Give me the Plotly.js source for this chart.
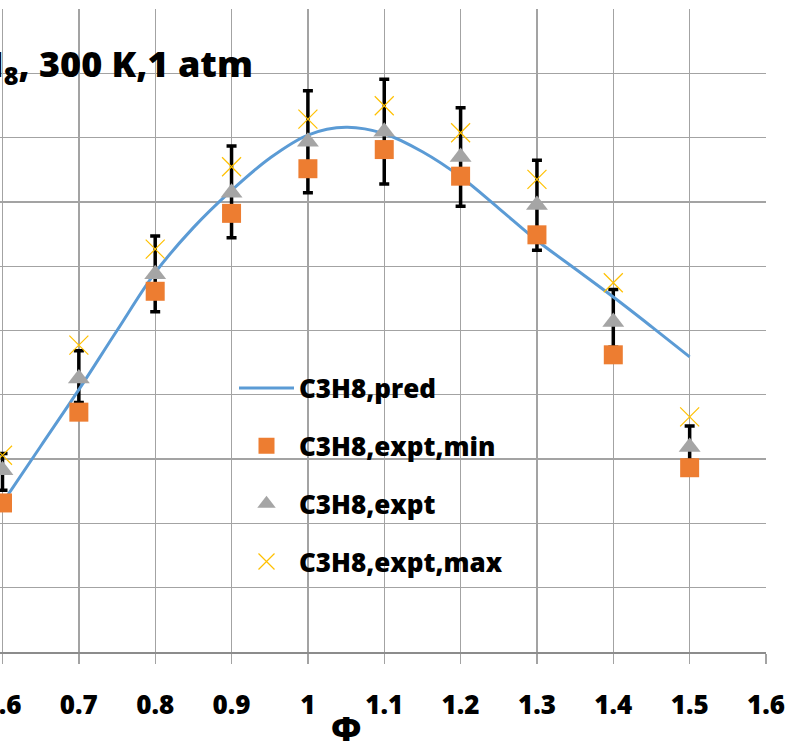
<!DOCTYPE html>
<html>
<head>
<meta charset="utf-8">
<script src="https://cdn.plot.ly/plotly-3.0.1.min.js"></script>
<style>html,body{margin:0;padding:0;background:#fff;}#chart{width:792px;height:744px;}</style>
</head>
<body>
<div id="chart"></div>
<script>
// Equivalence ratio of the experimental points
const phi = [0.6, 0.7, 0.8, 0.9, 1.0, 1.1, 1.2, 1.3, 1.4, 1.5];
// Experimental series (flame speed, cm/s)
const exptMin = [11.59, 18.65, 28.05, 34.11, 37.58, 39.07, 37.0, 32.44, 23.11, 14.33];
const expt    = [14.14, 21.27, 29.37, 35.72, 39.68, 40.45, 38.49, 34.75, 25.67, 15.95];
const exptMax = [15.30, 23.86, 31.33, 37.73, 41.44, 42.48, 40.38, 36.75, 28.71, 18.28];
// Error bar ends
const errUpper = [15.43, 23.42, 32.34, 39.34, 43.64, 44.53, 42.32, 38.23, 28.19, 17.58];
const errLower = [12.58, 19.4, 26.45, 32.21, 35.71, 36.39, 34.67, 31.25, 23.7, 14.9];
// Predicted curve
const predPhi = [0.6, 0.65, 0.7, 0.75, 0.8, 0.85, 0.9, 0.95, 1.0, 1.05, 1.1, 1.15, 1.2, 1.25, 1.3, 1.35, 1.4, 1.45, 1.5];
const predV   = [11.6, 16.0, 20.4, 25.0, 29.5, 33.0, 35.9, 38.4, 40.2, 40.8, 40.3, 38.9, 36.95, 34.5, 32.0, 29.8, 27.6, 25.3, 22.95];
// Axis ticks
const xTicks = [0.6, 0.7, 0.8, 0.9, 1.0, 1.1, 1.2, 1.3, 1.4, 1.5, 1.6];
const xTickText = ["0.6", "0.7", "0.8", "0.9", "1", "1.1", "1.2", "1.3", "1.4", "1.5", "1.6"];
const seriesNames = ["C3H8,pred", "C3H8,expt,min", "C3H8,expt", "C3H8,expt,max"];

const FONT = "'Open Sans', Lato, 'DejaVu Sans', sans-serif";
const W = 800;

const errTrace = {
  x: phi, y: expt, type: 'scatter', mode: 'markers',
  marker: {size: 1, color: 'rgba(0,0,0,0)'},
  showlegend: false, hoverinfo: 'skip',
  error_y: {
    type: 'data', symmetric: false,
    array: errUpper.map((u, i) => u - expt[i]),
    arrayminus: errLower.map((l, i) => expt[i] - l),
    color: '#000000', thickness: 3.5, width: 5
  }
};
const predTrace = {
  x: predPhi, y: predV, type: 'scatter', mode: 'lines', name: seriesNames[0],
  legendgroup: 'a',
  line: {color: '#5B9BD5', width: 3, shape: 'spline', smoothing: 1}
};
const minTrace = {
  x: phi, y: exptMin, type: 'scatter', mode: 'markers', name: seriesNames[1],
  legendgroup: 'b',
  marker: {symbol: 'square', size: 19, color: '#ED7D31', line: {width: 0}}
};
const exptTrace = {
  x: phi, y: expt, type: 'scatter', mode: 'markers', name: seriesNames[2],
  legendgroup: 'c',
  marker: {symbol: 'triangle-up', size: 19, color: '#A5A5A5', line: {width: 0}}
};
const maxTrace = {
  x: phi, y: exptMax, type: 'scatter', mode: 'markers', name: seriesNames[3],
  legendgroup: 'd',
  marker: {symbol: 'x-thin-open', size: 19, color: '#FFC000', line: {width: 1.2, color: '#FFC000'}}
};

const plotW = 766, plotH = 642.7, mt = 9;
const px = v => v / plotW;
const py = v => 1 - (v - mt) / plotH;

const layout = {
  width: 792, height: 744,
  margin: {l: 0, r: 26, t: 9, b: 92.3, pad: 0},
  paper_bgcolor: '#ffffff', plot_bgcolor: '#ffffff',
  showlegend: true,
  font: {family: FONT, color: '#000'},
  xaxis: {
    range: [0.6 - 2.5 / 763.5, 1.6],
    tickmode: 'array', tickvals: xTicks, ticktext: xTickText,
    showgrid: true, gridcolor: '#a3a3a3', gridwidth: 1.3,
    zeroline: false,
    showline: true, linecolor: '#8c8c8c', linewidth: 1.5,
    ticks: 'outside', ticklen: 10, tickcolor: '#a3a3a3', tickwidth: 1.3,
    tickfont: {family: FONT, size: 26, color: '#000', weight: W},
    ticklabelstandoff: 19, ticklabeloverflow: 'allow'
  },
  yaxis: {
    range: [0, 50], dtick: 5, tick0: 0,
    showgrid: true, gridcolor: '#a3a3a3', gridwidth: 1.3,
    zeroline: false, showline: false, showticklabels: false, ticks: ''
  },
  legend: {
    x: px(234), y: py(364.5), xanchor: 'left', yanchor: 'top',
    bgcolor: 'rgba(0,0,0,0)', borderwidth: 0,
    traceorder: 'grouped', tracegroupgap: 21, itemwidth: 55,
    font: {family: FONT, size: 26, color: '#000', weight: W}
  },
  annotations: [
    {
      xref: 'paper', yref: 'paper', x: px(255), y: py(65), xanchor: 'right', yanchor: 'middle',
      text: 'C<sub>3</sub>H<sub>8</sub>, 300 K,1 atm', showarrow: false,
      font: {family: FONT, size: 36, color: '#000', weight: W}
    },
    {
      xref: 'paper', yref: 'paper', x: px(346), y: py(728), xanchor: 'center', yanchor: 'middle',
      text: 'Φ', showarrow: false,
      font: {family: FONT, size: 34, color: '#000', weight: W}
    }
  ]
};

Plotly.newPlot('chart', [errTrace, predTrace, minTrace, exptTrace, maxTrace], layout, {displayModeBar: false, staticPlot: true});
</script>
</body>
</html>
